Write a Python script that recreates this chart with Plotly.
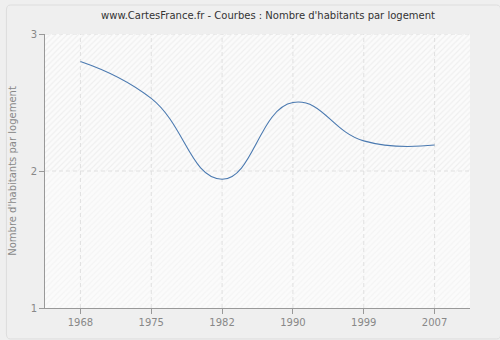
import plotly.graph_objects as go

years = ["1968", "1975", "1982", "1990", "1999", "2007"]
values = [2.80, 2.53, 1.94, 2.50, 2.22, 2.19]
y_ticks = [1, 2, 3]
x_pos = list(range(len(years)))

fig = go.Figure()

# hatched plot background (upper and lower halves)
for y0, y1, fg in [(2, 3, "#e4e4e4"), (1, 2, "#eeeeee")]:
    fig.add_trace(go.Scatter(
        x=[-0.5, 5.5, 5.5, -0.5, -0.5], y=[y0, y0, y1, y1, y0],
        mode="lines", line=dict(width=0), fill="toself",
        fillcolor="#ffffff",
        fillpattern=dict(shape="/", fgcolor=fg, bgcolor="#fbfbfb", size=4, solidity=0.3),
        hoverinfo="skip", showlegend=False,
    ))

# dashed grid drawn above the hatch, built from the tick arrays
gx, gy = [], []
for xv in x_pos:
    gx += [xv, xv, None]
    gy += [y_ticks[0], y_ticks[-1], None]
for yv in y_ticks[1:]:
    gx += [-0.5, 5.5, None]
    gy += [yv, yv, None]
fig.add_trace(go.Scatter(
    x=gx, y=gy, mode="lines",
    line=dict(color="#e0e0e0", width=1, dash="4px,3px"),
    hoverinfo="skip", showlegend=False,
))

fig.add_trace(go.Scatter(
    x=x_pos, y=values, mode="lines",
    line=dict(color="#4a79b0", width=1.1, shape="spline", smoothing=1.3),
    showlegend=False,
))

fig.update_layout(
    width=500, height=340,
    margin=dict(l=40, r=30, t=34, b=31),
    paper_bgcolor="#efefef",
    plot_bgcolor="#fbfbfb",
    font=dict(family="DejaVu Sans, Verdana, sans-serif", size=10, color="#888888"),
    title=dict(
        text="www.CartesFrance.fr - Courbes : Nombre d'habitants par logement",
        x=0.536, xanchor="center", y=0.955, yanchor="middle",
        font=dict(size=10, color="#333333"),
    ),
    xaxis=dict(
        range=[-0.5, 5.5], tickvals=x_pos, ticktext=years,
        showgrid=False,
        showline=True, linecolor="#999999", linewidth=1,
        ticks="outside", ticklen=5, tickcolor="#999999",
        tickfont=dict(size=10, color="#888888"),
        zeroline=False,
    ),
    yaxis=dict(
        range=[1, 3], tickvals=y_ticks,
        showgrid=False,
        showline=True, linecolor="#999999", linewidth=1,
        ticks="outside", ticklen=5, tickcolor="#999999",
        tickfont=dict(size=10, color="#888888"),
        title=dict(text="Nombre d'habitants par logement", font=dict(size=10, color="#888888"), standoff=12),
        zeroline=False,
    ),
    shapes=[
        dict(type="path", xref="paper", yref="paper", layer="below",
             path="M -0.0814,1.1057 L 1.0628,1.1057 Q 1.0721,1.1057 1.0721,1.0873 L 1.0721,-0.0947 Q 1.0721,-0.1130 1.0628,-0.1130 L -0.0814,-0.1130 Q -0.0907,-0.1130 -0.0907,-0.0947 L -0.0907,1.0873 Q -0.0907,1.1057 -0.0814,1.1057 Z",
             line=dict(color="#dddddd", width=1), fillcolor="rgba(0,0,0,0)"),
    ],
)

fig.write_html("out.html")
